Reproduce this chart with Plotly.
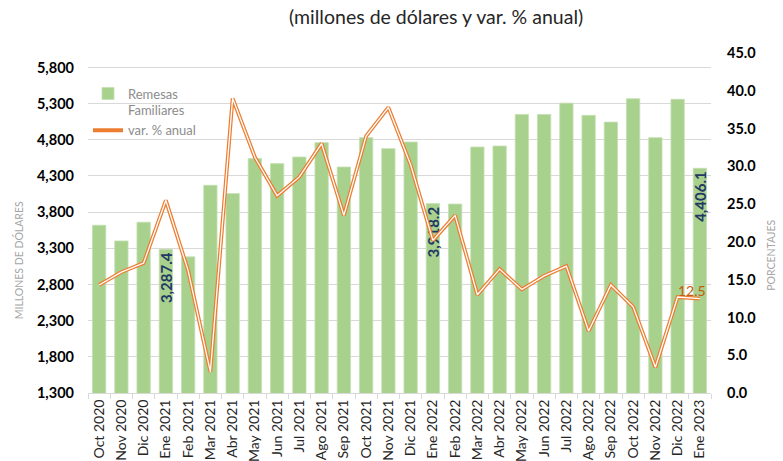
import plotly.graph_objects as go

categories = ["Oct 2020", "Nov 2020", "Dic 2020", "Ene 2021", "Feb 2021", "Mar 2021", "Abr 2021",
              "May 2021", "Jun 2021", "Jul 2021", "Ago 2021", "Sep 2021", "Oct 2021", "Nov 2021",
              "Dic 2021", "Ene 2022", "Feb 2022", "Mar 2022", "Abr 2022", "May 2022", "Jun 2022",
              "Jul 2022", "Ago 2022", "Sep 2022", "Oct 2022", "Nov 2022", "Dic 2022", "Ene 2023"]

remesas = [3619, 3402, 3661, 3287.4, 3182, 4171, 4057, 4540, 4471, 4562, 4761, 4424, 4830, 4678,
           4769, 3918.2, 3912, 4700, 4714, 5151, 5151, 5307, 5138, 5045, 5368, 4830, 5360, 4406.1]

var_anual = [14.3, 16.0, 17.2, 25.5, 16.2, 2.8, 39.0, 31.2, 26.1, 28.6, 33.0, 23.5, 34.0, 37.8,
             30.2, 20.2, 23.5, 13.0, 16.4, 13.7, 15.5, 16.8, 8.2, 14.3, 11.4, 3.4, 12.7, 12.5]

labeled_bars = ["Ene 2021", "Ene 2022", "Ene 2023"]
labeled_line = ["Ene 2023"]

left_ticks = list(range(1300, 5801, 500))
right_ticks = [i * 5 for i in range(10)]

FONT = "Lato"
bar_text = [f"{v:,.1f}" if c in labeled_bars else "" for c, v in zip(categories, remesas)]

fig = go.Figure()
fig.add_trace(go.Bar(
    x=categories, y=remesas, name="Remesas<br>Familiares",
    marker=dict(color="#A9D18E", line=dict(color="#C5E0B4", width=0.8)),
    width=0.6,
    text=bar_text, textposition="inside", textangle=-90, insidetextanchor="end",
    textfont=dict(color="#1F3864", size=15, family=FONT, weight="bold"),
))
fig.add_trace(go.Scatter(
    x=categories, y=var_anual, name="var. % anual", yaxis="y2", mode="lines",
    line=dict(color="#ED7D31", width=3.8),
))
fig.add_trace(go.Scatter(
    x=categories, y=var_anual, yaxis="y2", mode="lines", showlegend=False, hoverinfo="skip",
    line=dict(color="#FFFFFF", width=1.3),
))

for c, v in zip(categories, var_anual):
    if c in labeled_line:
        fig.add_annotation(x=c, y=v, yref="y2", text=f"{v:.1f}", showarrow=False,
                           xshift=-8, yshift=8, font=dict(color="#C55A11", size=14, family=FONT))

fig.add_annotation(xref="paper", yref="paper", x=0.559, y=1.106, yanchor="middle", xanchor="center",
                   text="(millones de dólares y var. % anual)",
                   showarrow=False, font=dict(size=19.5, color="#262626", family=FONT))
fig.add_annotation(xref="paper", yref="paper", x=-0.112, y=0.391, text="MILLONES DE DÓLARES",
                   xanchor="center", yanchor="middle",
                   textangle=-90, showarrow=False, font=dict(size=10.5, color="#A6A6A6", family=FONT))
fig.add_annotation(xref="paper", yref="paper", x=1.096, y=0.406, text="PORCENTAJES",
                   xanchor="center", yanchor="middle",
                   textangle=-90, showarrow=False, font=dict(size=10.5, color="#A6A6A6", family=FONT))

fig.update_layout(
    width=783, height=461,
    margin=dict(l=88, r=72, t=53, b=68, autoexpand=False),
    paper_bgcolor="white", plot_bgcolor="white",
    font=dict(family=FONT),
    bargap=0.4,
    uniformtext=dict(minsize=15, mode="show"),
    showlegend=True,
    legend=dict(x=0.0, y=0.925, xanchor="left", yanchor="top", bgcolor="rgba(0,0,0,0)",
                font=dict(size=13, color="#8C8C8C", family=FONT), valign="top",
                tracegroupgap=0, itemwidth=30),
    xaxis=dict(type="category", tickangle=-90, tickfont=dict(size=14, color="#262626", family=FONT),
               showline=True, linecolor="#D9D9D9", ticks="outside", tickson="boundaries",
               ticklen=5, tickcolor="#D9D9D9", showgrid=False, automargin=False),
    yaxis=dict(range=[1300, 6000], tickvals=left_ticks, tickformat=",", showgrid=True,
               gridcolor="#D9D9D9", zeroline=False, automargin=False,
               tickfont=dict(size=14.5, color="#000000", family=FONT, weight="bold"), ticklabelstandoff=13),
    yaxis2=dict(range=[0, 45], tickvals=right_ticks, tickformat=".1f", overlaying="y", side="right",
                showgrid=False, zeroline=False, automargin=False,
                tickfont=dict(size=14.5, color="#000000", family=FONT, weight="bold"), ticklabelstandoff=15),
)

fig.write_html("out.html", config={"displayModeBar": False},
               post_script="document.body.style.margin='0';")
